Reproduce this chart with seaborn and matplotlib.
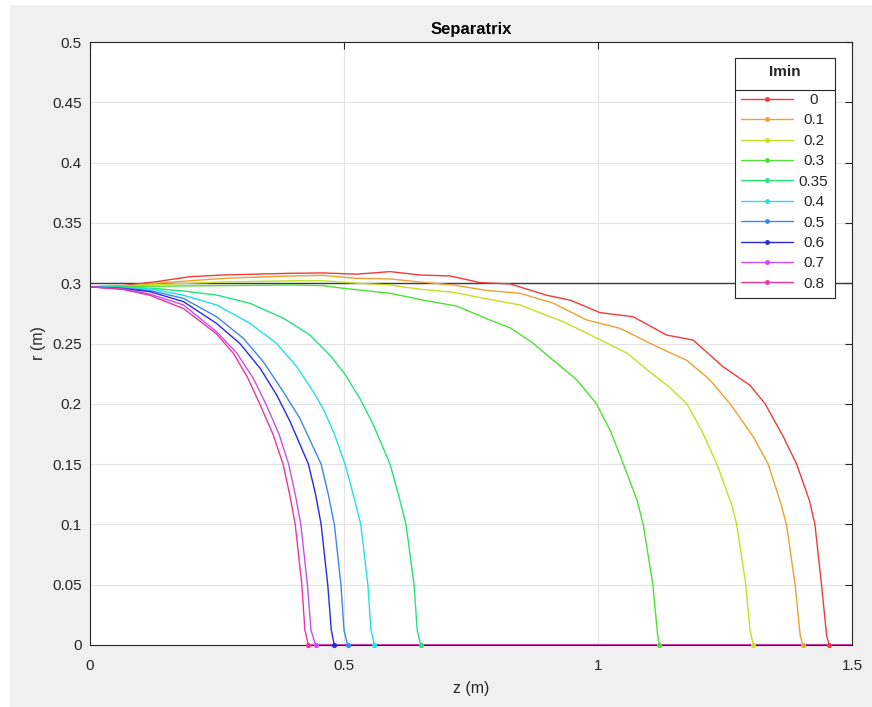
import numpy as np
import pandas as pd
import matplotlib
matplotlib.use("Agg")
import matplotlib.pyplot as plt
from matplotlib.lines import Line2D
from matplotlib.patches import Rectangle
import seaborn as sns

# ---------------- data ----------------
imin_labels = ["0", "0.1", "0.2", "0.3", "0.35", "0.4", "0.5", "0.6", "0.7", "0.8"]
colors = ["#f23a3a", "#f0a030", "#c4e020", "#4ee032", "#22e47a",
          "#22e0e6", "#3a88f0", "#2a2ae6", "#c84ef0", "#f0349e"]

z_0 = [0, 0.065, 0.131, 0.197, 0.262, 0.328, 0.394, 0.459, 0.525, 0.591, 0.650, 0.709,
       0.768, 0.827, 0.899, 0.945, 1.004, 1.069, 1.135, 1.187, 1.246, 1.299, 1.329,
       1.365, 1.391, 1.416, 1.427, 1.440, 1.450, 1.455]
r_0 = [0.297, 0.298, 0.3013, 0.3054, 0.3068, 0.3075, 0.3082, 0.3085, 0.3075, 0.3096,
       0.3068, 0.306, 0.3005, 0.2994, 0.290, 0.286, 0.2756, 0.2722, 0.257, 0.2529,
       0.2308, 0.2154, 0.200, 0.1725, 0.150, 0.120, 0.100, 0.050, 0.008, 0.0]

z_01 = [0, 0.065, 0.131, 0.197, 0.262, 0.328, 0.394, 0.459, 0.525, 0.591, 0.650, 0.715,
        0.781, 0.846, 0.912, 0.978, 1.043, 1.109, 1.175, 1.220, 1.260, 1.306, 1.335,
        1.358, 1.371, 1.388, 1.398, 1.403]
r_01 = [0.297, 0.2975, 0.300, 0.302, 0.304, 0.305, 0.306, 0.3065, 0.304, 0.3035, 0.301,
        0.2985, 0.294, 0.2917, 0.2834, 0.2695, 0.2626, 0.2488, 0.236, 0.220, 0.200,
        0.1725, 0.150, 0.120, 0.100, 0.050, 0.008, 0.0]

z_02 = [0, 0.065, 0.131, 0.197, 0.262, 0.394, 0.459, 0.525, 0.591, 0.650, 0.715, 0.781,
        0.846, 0.932, 0.997, 1.057, 1.102, 1.140, 1.175, 1.205, 1.234, 1.263, 1.273,
        1.291, 1.299, 1.306]
r_02 = [0.297, 0.2975, 0.299, 0.300, 0.301, 0.302, 0.302, 0.300, 0.2985, 0.2950, 0.2925,
        0.287, 0.282, 0.268, 0.2546, 0.242, 0.2264, 0.214, 0.200, 0.177, 0.150, 0.1166,
        0.100, 0.050, 0.0125, 0.0]

z_03 = [0, 0.131, 0.262, 0.394, 0.459, 0.500, 0.591, 0.656, 0.722, 0.787, 0.827, 0.870,
        0.912, 0.958, 0.997, 1.025, 1.050, 1.077, 1.089, 1.108, 1.117, 1.121]
r_03 = [0.297, 0.2975, 0.298, 0.2985, 0.298, 0.2957, 0.2916, 0.286, 0.281, 0.2695, 0.263,
        0.251, 0.236, 0.220, 0.200, 0.177, 0.150, 0.120, 0.100, 0.050, 0.0097, 0.0]

z_035 = [0, 0.065, 0.131, 0.184, 0.249, 0.315, 0.381, 0.433, 0.472, 0.5006, 0.531, 0.558,
         0.5906, 0.607, 0.622, 0.638, 0.644, 0.651]
r_035 = [0.297, 0.2968, 0.2955, 0.2935, 0.2902, 0.2833, 0.2709, 0.257, 0.2405, 0.2253,
         0.2046, 0.1824, 0.150, 0.125, 0.100, 0.050, 0.0124, 0.0]

z_04 = [0, 0.065, 0.118, 0.184, 0.249, 0.315, 0.3675, 0.407, 0.4396, 0.459, 0.481, 0.502,
        0.518, 0.533, 0.547, 0.553, 0.560]
r_04 = [0.297, 0.2965, 0.2955, 0.290, 0.282, 0.2667, 0.250, 0.2308, 0.210, 0.196, 0.175,
        0.150, 0.125, 0.100, 0.050, 0.0124, 0.0]

z_05 = [0, 0.065, 0.118, 0.184, 0.249, 0.302, 0.341, 0.3805, 0.413, 0.455, 0.469, 0.481,
        0.494, 0.500, 0.507]
r_05 = [0.297, 0.296, 0.294, 0.2874, 0.2722, 0.2543, 0.235, 0.210, 0.188, 0.150, 0.125,
        0.100, 0.050, 0.0124, 0.0]

z_06 = [0, 0.065, 0.118, 0.184, 0.249, 0.295, 0.335, 0.3675, 0.394, 0.430, 0.444, 0.455,
        0.468, 0.475, 0.481]
r_06 = [0.297, 0.2955, 0.293, 0.2847, 0.2667, 0.250, 0.2294, 0.2073, 0.1852, 0.150, 0.125,
        0.100, 0.050, 0.0124, 0.0]

z_07 = [0, 0.065, 0.118, 0.184, 0.249, 0.289, 0.3215, 0.346, 0.372, 0.391, 0.404, 0.415,
        0.428, 0.435, 0.444]
r_07 = [0.297, 0.2952, 0.291, 0.282, 0.2598, 0.242, 0.2211, 0.200, 0.175, 0.150, 0.125,
        0.100, 0.050, 0.0124, 0.0]

z_08 = [0, 0.065, 0.118, 0.184, 0.249, 0.282, 0.310, 0.334, 0.360, 0.380, 0.393, 0.404,
        0.417, 0.423, 0.430]
r_08 = [0.297, 0.2948, 0.290, 0.279, 0.258, 0.242, 0.222, 0.200, 0.175, 0.150, 0.125,
        0.100, 0.050, 0.0124, 0.0]

z_series = [z_0, z_01, z_02, z_03, z_035, z_04, z_05, z_06, z_07, z_08]
r_series = [r_0, r_01, r_02, r_03, r_035, r_04, r_05, r_06, r_07, r_08]

z_max = 1.5          # each separatrix continues along the axis to the domain end
wall_r = 0.3         # wall radius line

x_ticks = [0, 0.5, 1, 1.5]
x_tick_labels = ["0", "0.5", "1", "1.5"]
y_ticks = [0, 0.05, 0.1, 0.15, 0.2, 0.25, 0.3, 0.35, 0.4, 0.45, 0.5]
y_tick_labels = ["0", "0.05", "0.1", "0.15", "0.2", "0.25", "0.3", "0.35", "0.4", "0.45", "0.5"]

# ---------------- figure ----------------
sns.set_theme(style="white")
plt.rcParams["font.family"] = ["Liberation Sans", "DejaVu Sans"]

W, H = 872, 707
fig = plt.figure(figsize=(W / 100, H / 100), dpi=100, facecolor="#f0f0f0")
fig.patches.append(Rectangle((0, 0), 10 / W, 1, transform=fig.transFigure,
                             facecolor="white", edgecolor="none", zorder=-10))
fig.patches.append(Rectangle((0, 1 - 5 / H), 1, 5 / H, transform=fig.transFigure,
                             facecolor="white", edgecolor="none", zorder=-10))

ax = fig.add_axes([90 / W, (H - 645) / H, 762 / W, 603 / H])
ax.set_facecolor("white")

ax.axhline(wall_r, color="#3a3a3a", lw=1.0, zorder=1)

for lab, col, zs, rs in zip(imin_labels, colors, z_series, r_series):
    df = pd.DataFrame({"z": list(zs) + [z_max], "r": list(rs) + [0.0]})
    sns.lineplot(data=df, x="z", y="r", sort=False, estimator=None, color=col,
                 lw=1.0, ax=ax, zorder=2, legend=False,
                 solid_joinstyle="round")
    end = df.iloc[[len(zs) - 1]]
    sns.scatterplot(data=end, x="z", y="r", color=col, s=14, linewidth=0,
                    ax=ax, zorder=3, legend=False, clip_on=False)

ax.set_xlim(0, 1.5)
ax.set_ylim(0, 0.5)
ax.set_xticks(x_ticks)
ax.set_xticklabels(x_tick_labels)
ax.set_yticks(y_ticks)
ax.set_yticklabels(y_tick_labels)
ax.grid(True, color="#e3e3e3", lw=0.8)
ax.set_axisbelow(True)
for s in ax.spines.values():
    s.set_color("#262626")
    s.set_linewidth(0.8)
    s.set_visible(True)
ax.tick_params(direction="in", length=5, width=0.8, color="#262626",
               labelsize=11, labelcolor="#262626", top=True, right=True, pad=6)
ax.tick_params(axis="x", pad=10)

ax.set_xlabel("z (m)", fontsize=11.5, color="#262626", labelpad=6)
ax.set_ylabel("r (m)", fontsize=11.5, color="#262626", labelpad=4)
ax.set_title("Separatrix", fontsize=12, fontweight="bold", color="black", pad=6)

handles = [Line2D([], [], color=c, lw=1.0, marker=".", markersize=5) for c in colors]
leg = ax.legend(handles, imin_labels, title="Imin", loc="upper right",
                bbox_to_anchor=(0.978, 0.973), borderaxespad=0, fontsize=11,
                title_fontproperties={"weight": "bold", "size": 11},
                frameon=True, fancybox=False, framealpha=1, edgecolor="#262626",
                handlelength=3.4, handletextpad=0.35, labelspacing=0.42,
                borderpad=0.45, numpoints=1)
leg.get_frame().set_linewidth(0.8)
leg.set_zorder(10)
# more room between the title and the entries
leg._legend_box.sep = 10

fig.canvas.draw()
renderer = fig.canvas.get_renderer()
# centre the labels in their column (as in the reference)
texts = leg.get_texts()
widths = [t.get_window_extent(renderer).width for t in texts]
maxw = max(widths)
for t, w in zip(texts, widths):
    t.set_x((maxw - w) / 2.0)
fig.canvas.draw()

# separator line below the legend title
fb = leg.get_frame().get_window_extent(renderer)
e0 = texts[0].get_window_extent(renderer)
y_sep = (e0.y0 + e0.y1) / 2 + 10
inv = fig.transFigure.inverted()
(x0f, ysf) = inv.transform((fb.x0, y_sep))
(x1f, _) = inv.transform((fb.x1, y_sep))
fig.add_artist(Line2D([x0f, x1f], [ysf, ysf], color="#262626", lw=0.8,
                      transform=fig.transFigure, zorder=20))

fig.savefig("out.png", dpi=100, facecolor=fig.get_facecolor())
